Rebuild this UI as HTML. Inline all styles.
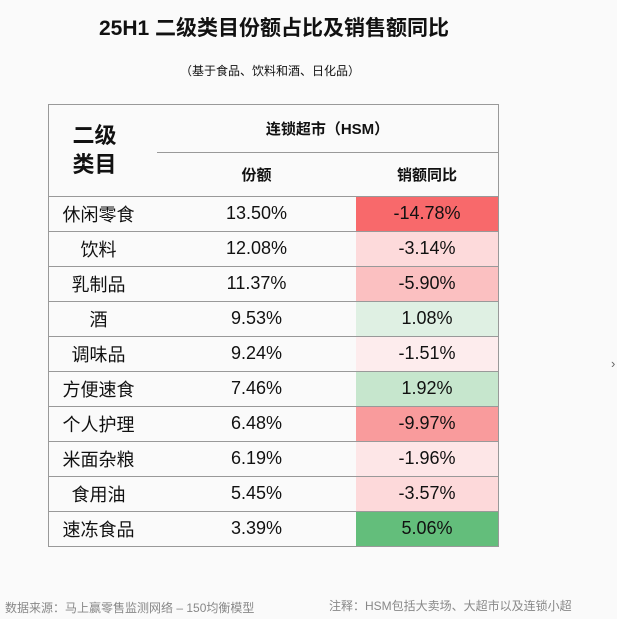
<!DOCTYPE html>
<html><head><meta charset="utf-8"><style>
body{margin:0;width:617px;height:619px;background:#fafafa;font-family:"Liberation Sans","Noto Sans CJK SC",sans-serif;position:relative;overflow:hidden;color:#111}
.a{position:absolute;white-space:nowrap}
.c{position:absolute;display:flex;align-items:center;justify-content:center;font-size:18px}
.h{position:absolute;height:1px;background:#999}
.v{position:absolute;width:1px;background:#999}
</style></head><body>
<div class="a" style="left:0;width:548px;top:12px;text-align:center;font-size:21px;font-weight:bold">25H1 二级类目份额占比及销售额同比</div>
<div class="a" style="left:0;width:540px;top:62px;text-align:center;font-size:12px">（基于食品、饮料和酒、日化品）</div>
<div class="a" style="left:611px;top:356px;font-size:13px;color:#666">›</div>

<div class="c" style="left:40px;top:104px;width:109px;height:92px;font-size:22px;font-weight:bold;line-height:29px;text-align:center">二级<br>类目</div>
<div class="c" style="left:157px;top:104px;width:341px;height:48px;font-size:15px;font-weight:bold">连锁超市（HSM）</div>
<div class="c" style="left:157px;top:152px;width:199px;height:44px;font-size:15px;font-weight:bold">份额</div>
<div class="c" style="left:356px;top:152px;width:142px;height:44px;font-size:15px;font-weight:bold">销额同比</div>

<div id="rows"></div>
<script>
var d=[["休闲零食","13.50%","-14.78%","#f8696b"],["饮料","12.08%","-3.14%","#fddadb"],["乳制品","11.37%","-5.90%","#fbc0c1"],["酒","9.53%","1.08%","#dff0e3"],["调味品","9.24%","-1.51%","#fdeced"],["方便速食","7.46%","1.92%","#c6e6cd"],["个人护理","6.48%","-9.97%","#f99b9c"],["米面杂粮","6.19%","-1.96%","#fde6e7"],["食用油","5.45%","-3.57%","#fdd9da"],["速冻食品","3.39%","5.06%","#63be7b"]];
var h="",y=196,rh=35;
d.forEach(function(r,i){var t=y+i*rh;
h+='<div class="c" style="left:40px;top:'+t+'px;width:117px;height:'+rh+'px">'+r[0]+'</div>';
h+='<div class="c" style="left:157px;top:'+t+'px;width:199px;height:'+rh+'px">'+r[1]+'</div>';
h+='<div class="c" style="left:356px;top:'+t+'px;width:142px;height:'+rh+'px;background:'+r[3]+'">'+r[2]+'</div>';
h+='<div class="h" style="left:48px;width:451px;top:'+t+'px"></div>';});
h+='<div class="h" style="left:48px;width:451px;top:546px"></div>';
document.getElementById("rows").innerHTML=h;
</script>
<div class="h" style="left:48px;width:451px;top:104px"></div>
<div class="h" style="left:157px;width:342px;top:152px"></div>
<div class="v" style="left:48px;top:104px;height:443px"></div>
<div class="v" style="left:498px;top:104px;height:443px"></div>

<div class="a" style="left:5px;top:599px;font-size:12px;color:#888">数据来源：马上赢零售监测网络 – 150均衡模型</div>
<div class="a" style="left:329px;top:597px;font-size:12px;color:#888">注释：HSM包括大卖场、大超市以及连锁小超</div>
</body></html>
